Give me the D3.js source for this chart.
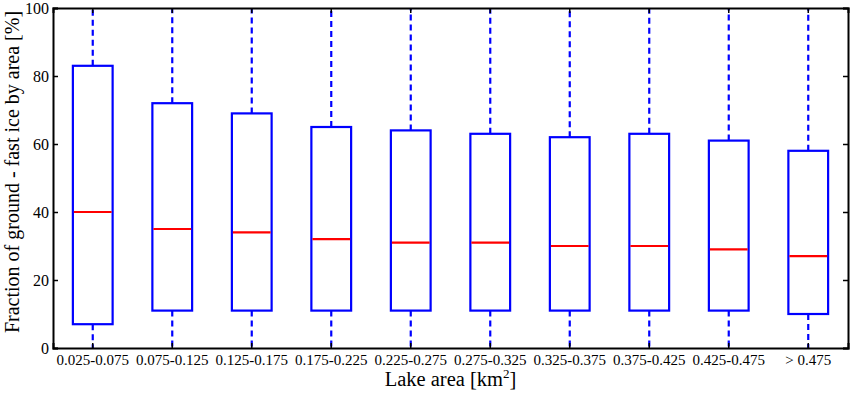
<!DOCTYPE html>
<html lang="en">
  <head>
    <meta charset="UTF-8" />
    <title>Lake area box plot</title>
    <script src="https://d3js.org/d3.v7.min.js"></script>
    <style>
      body { margin: 0; background: #fff; }
      text { font-family: "Liberation Serif", "Times New Roman", serif; fill: #000; }
    </style>
  </head>
  <body>
    <svg width="850" height="395"></svg>
    <script>
      var categories = ["0.025-0.075", "0.075-0.125", "0.125-0.175", "0.175-0.225", "0.225-0.275",
                        "0.275-0.325", "0.325-0.375", "0.375-0.425", "0.425-0.475", "> 0.475"];
      var whiskerLow = [0, 0, 0, 0, 0, 0, 0, 0, 0, 0];
      var q1 = [7, 11, 11, 11, 11, 11, 11, 11, 11, 10];
      var median = [40, 35, 34, 32, 31, 31, 30, 30, 29, 27];
      var q3 = [83, 72, 69, 65, 64, 63, 62, 63, 61, 58];
      var whiskerHigh = [100, 100, 100, 100, 100, 100, 100, 100, 100, 100];
      var yTicks = [0, 20, 40, 60, 80, 100];

      var svg = d3.select("svg"),
        mLeft = 53, mRight = 848, mTop = 8, mBottom = 348;

      var x = d3.scaleBand().domain(categories).range([mLeft, mRight]).padding(0);
      var y = d3.scaleLinear().domain([0, 100]).range([mBottom, mTop]);
      var boxW = x.bandwidth() * 0.5;
      var cx = function (c) { return x(c) + x.bandwidth() / 2; };

      var data = categories.map(function (c, i) {
        return { cat: c, lo: whiskerLow[i], q1: q1[i], med: median[i], q3: q3[i], hi: whiskerHigh[i] };
      });

      var g = svg.append("g");

      // whiskers
      g.selectAll(".wlo").data(data).enter().append("line")
        .attr("x1", function (d) { return cx(d.cat); })
        .attr("x2", function (d) { return cx(d.cat); })
        .attr("y1", function (d) { return y(d.q1); })
        .attr("y2", function (d) { return y(d.lo); })
        .attr("stroke", "#0000ff").attr("stroke-width", 2.2)
        .attr("stroke-dasharray", "6,4");
      g.selectAll(".whi").data(data).enter().append("line")
        .attr("x1", function (d) { return cx(d.cat); })
        .attr("x2", function (d) { return cx(d.cat); })
        .attr("y1", function (d) { return y(d.q3); })
        .attr("y2", function (d) { return y(d.hi); })
        .attr("stroke", "#0000ff").attr("stroke-width", 2.2)
        .attr("stroke-dasharray", "6,4");

      // boxes
      g.selectAll(".box").data(data).enter().append("rect")
        .attr("x", function (d) { return cx(d.cat) - boxW / 2; })
        .attr("y", function (d) { return y(d.q3); })
        .attr("width", boxW)
        .attr("height", function (d) { return y(d.q1) - y(d.q3); })
        .attr("fill", "none").attr("stroke", "#0000ff").attr("stroke-width", 2.2);

      // medians
      g.selectAll(".med").data(data).enter().append("line")
        .attr("x1", function (d) { return cx(d.cat) - boxW / 2 + 1; })
        .attr("x2", function (d) { return cx(d.cat) + boxW / 2 - 1; })
        .attr("y1", function (d) { return y(d.med); })
        .attr("y2", function (d) { return y(d.med); })
        .attr("stroke", "#ff0000").attr("stroke-width", 2.2);

      // axes with inward ticks
      var bottomAxis = svg.append("g").attr("transform", "translate(0," + mBottom + ")")
        .call(d3.axisBottom(x).tickSize(-5).tickPadding(6));
      var topAxis = svg.append("g").attr("transform", "translate(0," + mTop + ")")
        .call(d3.axisTop(x).tickSize(-5).tickFormat(""));
      var leftAxis = svg.append("g").attr("transform", "translate(" + mLeft + ",0)")
        .call(d3.axisLeft(y).tickValues(yTicks).tickSize(-5).tickPadding(4));
      var rightAxis = svg.append("g").attr("transform", "translate(" + mRight + ",0)")
        .call(d3.axisRight(y).tickValues(yTicks).tickSize(-5).tickFormat(""));

      [bottomAxis, topAxis, leftAxis, rightAxis].forEach(function (a) {
        a.select(".domain").attr("stroke", "#000").attr("stroke-width", 2);
        a.selectAll(".tick line").attr("stroke", "#000").attr("stroke-width", 1.5);
        a.selectAll("text").attr("font-size", "15px")
          .attr("font-family", "Liberation Serif");
      });
      leftAxis.selectAll("text").attr("font-size", "16px");

      // axis titles
      var xt = svg.append("text")
        .attr("x", (mLeft + mRight) / 2)
        .attr("y", 386)
        .attr("text-anchor", "middle")
        .attr("font-size", "20.5px");
      xt.append("tspan").text("Lake area [km");
      xt.append("tspan").attr("dy", -8).attr("font-size", "13px").text("2");
      xt.append("tspan").attr("dy", 8).text("]");

      svg.append("text")
        .attr("transform", "translate(19," + 172 + ") rotate(-90)")
        .attr("text-anchor", "middle")
        .attr("font-size", "20px")
        .text("Fraction of ground - fast ice by area [%]");
    </script>
  </body>
</html>
